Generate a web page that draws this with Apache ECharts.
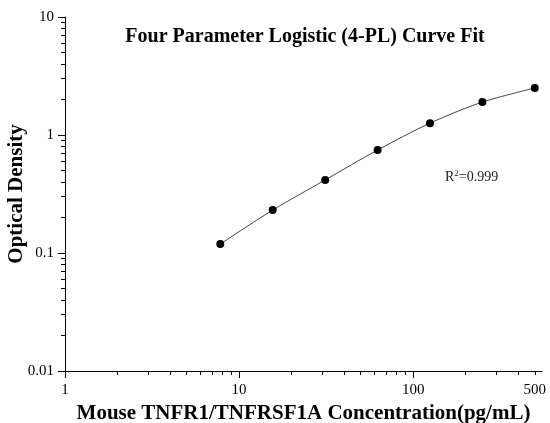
<!DOCTYPE html>
<html>
<head>
<meta charset="utf-8">
<script src="https://cdn.jsdelivr.net/npm/echarts@6/dist/echarts.min.js"></script>
<style>
  html, body { margin: 0; padding: 0; background: #fff; }
  #main { width: 550px; height: 423px; }
</style>
</head>
<body>
<div id="main"></div>
<script>
// standard points
var conc = [7.8, 15.6, 31.25, 62.5, 125, 250, 500];
var od = [0.119, 0.231, 0.416, 0.746, 1.26, 1.90, 2.50];

// tick values
var xMajor = [1, 10, 100];
var xLabels = [1, 10, 100, 500];
var xMinor = [2, 3, 4, 5, 6, 7, 8, 9, 20, 30, 40, 50, 60, 70, 80, 90, 200, 300, 400, 500];
var yMajor = [0.01, 0.1, 1, 10];
var yMinor = [0.02, 0.03, 0.04, 0.05, 0.06, 0.07, 0.08, 0.09,
              0.2, 0.3, 0.4, 0.5, 0.6, 0.7, 0.8, 0.9,
              2, 3, 4, 5, 6, 7, 8, 9];

var serif = '"Liberation Serif", "Times New Roman", serif';
var chart = echarts.init(document.getElementById('main'));

var pts = conc.map(function (c, i) { return [c, od[i]]; });

var option = {
  animation: false,
  grid: { left: 65, right: 8, top: 17, bottom: 52, containLabel: false, outerBoundsMode: 'none' },
  title: {
    text: 'Four Parameter Logistic (4-PL) Curve Fit',
    left: 300, top: 22, textAlign: 'center',
    textStyle: { fontFamily: serif, fontSize: 20, fontWeight: 'bold', color: '#000' }
  },
  graphic: [{
    type: 'text', left: 445, top: 169,
    style: {
      text: 'R{s|2}=0.999',
      font: '14px ' + serif,
      fill: '#222',
      rich: { s: { fontSize: 9, verticalAlign: 'top', padding: [0, 0, 8, 0], fontFamily: serif, fill: '#222' } }
    }
  }],
  xAxis: [{
    type: 'log', min: 1, max: 550, logBase: 10,
    name: 'Mouse TNFR1/TNFRSF1A Concentration(pg/mL)',
    nameLocation: 'middle', nameGap: 28,
    nameTextStyle: { fontFamily: serif, fontSize: 21, fontWeight: 'bold', color: '#000' },
    axisLine: { lineStyle: { color: '#000', width: 1 } },
    axisTick: { length: 7, customValues: xMajor, lineStyle: { color: '#000' } },
    axisLabel: { customValues: xLabels, fontFamily: serif, fontSize: 15, color: '#000', margin: 12 },
    splitLine: { show: false }
  }, {
    type: 'log', min: 1, max: 550, logBase: 10, position: 'bottom',
    axisLine: { show: false },
    axisTick: { length: 4, customValues: xMinor, lineStyle: { color: '#000' } },
    axisLabel: { show: false },
    splitLine: { show: false }
  }],
  yAxis: [{
    type: 'log', min: 0.01, max: 10, logBase: 10,
    name: 'Optical Density',
    nameLocation: 'middle', nameGap: 38, nameMoveOverlap: false,
    nameTextStyle: { fontFamily: serif, fontSize: 21, fontWeight: 'bold', color: '#000' },
    axisLine: { show: true, lineStyle: { color: '#000', width: 1 } },
    axisTick: { show: true, length: 7, customValues: yMajor, lineStyle: { color: '#000' } },
    axisLabel: {
      customValues: yMajor, fontFamily: serif, fontSize: 15, color: '#000', margin: 11,
      formatter: function (v) { return String(v); }
    },
    splitLine: { show: false }
  }, {
    type: 'log', min: 0.01, max: 10, logBase: 10, position: 'left', offset: 0,
    axisLine: { show: false },
    axisTick: { show: true, length: 4, customValues: yMinor, lineStyle: { color: '#000' } },
    axisLabel: { show: false },
    splitLine: { show: false }
  }],
  series: [{
    type: 'line',
    data: pts,
    smooth: 0.3,
    showSymbol: false,
    lineStyle: { color: '#444', width: 1 },
    z: 2
  }, {
    type: 'scatter',
    data: pts,
    symbolSize: 8,
    itemStyle: { color: '#000', opacity: 1 },
    z: 3
  }]
};
chart.setOption(option);
</script>
</body>
</html>
